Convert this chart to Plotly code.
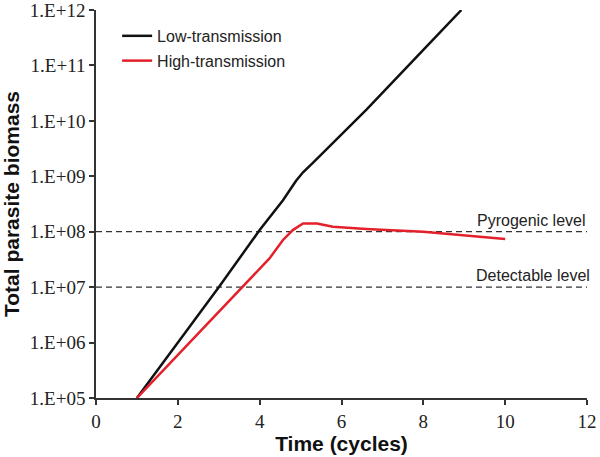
import plotly.graph_objects as go

# time (cycles) and total parasite biomass
low_t = [1, 2, 3, 4, 4.57, 4.89, 5.06, 5.3, 5.79, 6.61, 8, 8.93]
low_biomass = [1e5, 1e6, 1e7, 1.07e8, 3.7e8, 8.3e8, 1.18e9, 1.74e9, 4e9, 1.6e10, 1.9e11, 1e12]

high_t = [1, 2, 3, 3.55, 4.24, 4.57, 4.81, 5.06, 5.4, 5.79, 6.6, 8, 10]
high_biomass = [1e5, 6e5, 3.7e6, 1e7, 3.3e7, 7.1e7, 1.07e8, 1.41e8, 1.41e8, 1.23e8, 1.12e8, 1e8, 7.4e7]

threshold_x = [0, 12]
pyrogenic_level = 1e8
detectable_level = 1e7

y_tickvals = [1e5, 1e6, 1e7, 1e8, 1e9, 1e10, 1e11, 1e12]
y_ticktext = ["1.E+05", "1.E+06", "1.E+07", "1.E+08", "1.E+09", "1.E+10", "1.E+11", "1.E+12"]

fig = go.Figure()
for lvl in (pyrogenic_level, detectable_level):
    fig.add_trace(go.Scatter(x=threshold_x, y=[lvl, lvl], mode="lines", showlegend=False,
                             line=dict(color="#333333", width=1.3, dash="6px,4px"), hoverinfo="skip"))

fig.add_trace(go.Scatter(x=low_t, y=low_biomass, mode="lines", name="Low-transmission",
                         legendgroup="a", line=dict(color="#111111", width=2.5)))
fig.add_trace(go.Scatter(x=high_t, y=high_biomass, mode="lines", name="High-transmission",
                         legendgroup="b", line=dict(color="#e3202b", width=2.5)))

fig.add_annotation(x=12, y=8, xref="x", yref="y", text="Pyrogenic level", showarrow=False,
                   xanchor="right", yanchor="bottom", yshift=1, xshift=1,
                   font=dict(family="Liberation Sans, Arial", size=16, color="#222222"))
fig.add_annotation(x=12, y=7, xref="x", yref="y", text="Detectable level", showarrow=False,
                   xanchor="right", yanchor="bottom", yshift=1, xshift=5,
                   font=dict(family="Liberation Sans, Arial", size=16, color="#222222"))

axis_common = dict(showline=True, linecolor="#333333", linewidth=1.5, ticks="outside",
                   ticklen=5, tickwidth=1.5, tickcolor="#333333", showgrid=False, zeroline=False,
                   automargin=False, ticklabeloverflow="allow",
                   tickfont=dict(family="Liberation Serif, Times New Roman", size=19, color="#222222"))

fig.update_xaxes(range=[0, 12], tickvals=[0, 2, 4, 6, 8, 10, 12],
                 title=dict(text="<b>Time (cycles)</b>", standoff=3,
                            font=dict(family="Liberation Sans, Arial", size=21, color="#111111")),
                 **axis_common)
fig.update_yaxes(type="log", range=[5, 12], tickvals=y_tickvals, ticktext=y_ticktext,
                 title=dict(text="<b>Total parasite biomass</b>", standoff=10,
                            font=dict(family="Liberation Sans, Arial", size=21, color="#111111")),
                 **axis_common)

fig.update_layout(
    width=600, height=457,
    margin=dict(l=96, r=13, t=10, b=59),
    plot_bgcolor="white", paper_bgcolor="white",
    legend=dict(x=0.043, y=0.977, xanchor="left", yanchor="top", bgcolor="rgba(0,0,0,0)",
                tracegroupgap=1, traceorder="grouped",
                font=dict(family="Liberation Sans, Arial", size=16, color="#222222")),
)

# drop the browser's default 8px body margin so the figure sits at the window corner
fig.write_html("out.html", config={"displayModeBar": False},
               post_script="document.body.style.margin='0px';")
